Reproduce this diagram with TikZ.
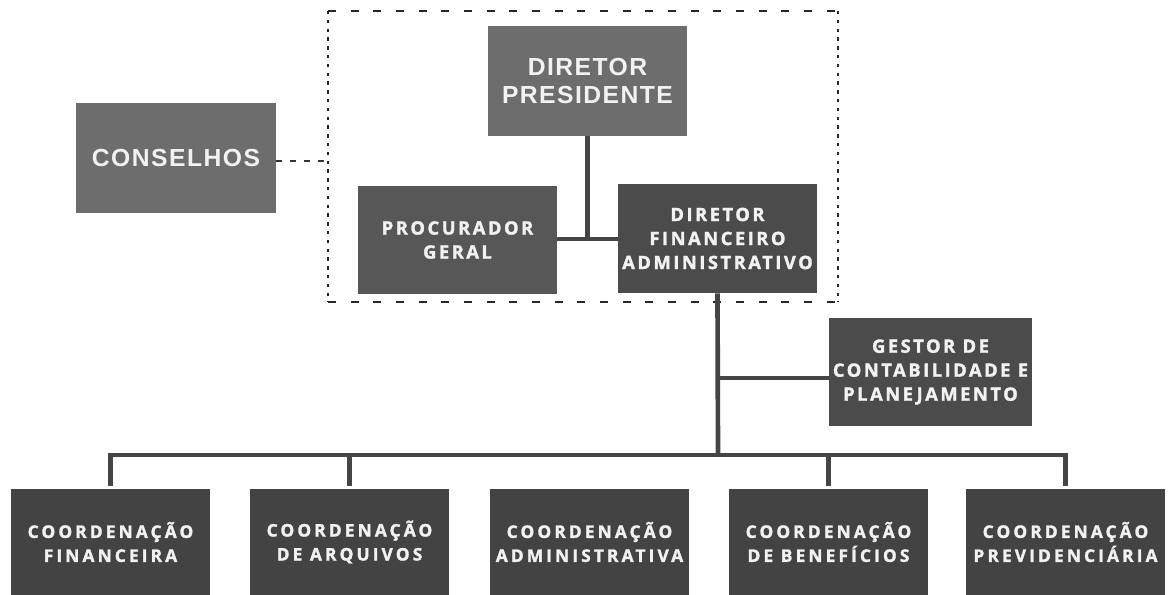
\documentclass[tikz,border=0pt]{standalone}
\usepackage{fontspec}
\newfontfamily\osm{Open Sans}[LetterSpace=13.5, FakeBold=1.6]
\newfontfamily\osc{Open Sans}[LetterSpace=18.0, FakeBold=1.6]
\newfontfamily\lsb{Liberation Sans}[LetterSpace=6.0]
\newdimen\pxu \pxu=0.75pt
\definecolor{lineC}{HTML}{454545}
\definecolor{boxA}{HTML}{6D6D6D}
\definecolor{boxB}{HTML}{575757}
\definecolor{boxC}{HTML}{4B4B4B}
\definecolor{boxD}{HTML}{434343}
\definecolor{txtC}{HTML}{F2F2F2}
\tikzset{
  orgbox/.style={inner sep=0pt, text=txtC, align=center, minimum width=199\pxu, minimum height=108\pxu},
  toplbl/.style={orgbox, font=\lsb\bfseries\fontsize{18.5}{21.5}\selectfont},
  midlbl/.style={orgbox, font=\osm\bfseries\fontsize{13.8}{18}\selectfont},
  botlbl/.style={orgbox, font=\osc\bfseries\fontsize{13}{18}\selectfont},
  conn/.style={draw=lineC, line width=3.5pt},
  dashh/.style={draw=black!85, line width=1.6pt, dash pattern=on 6pt off 11pt},
  dashv/.style={draw=black!85, line width=1.8pt, dash pattern=on 2.6pt off 4pt},
  dashc/.style={draw=black!80, line width=1.6pt, dash pattern=on 4pt off 6.5pt}
}
\begin{document}
\begin{tikzpicture}[x=0.75pt,y=-0.75pt]
\useasboundingbox[fill=white] (0,0) rectangle (1168,595);
% dashed frame
\coordinate (fTL) at (328,11);
\coordinate (fTR) at (838,11);
\coordinate (fBL) at (328,302);
\coordinate (fBR) at (838,302);
\draw[dashh] (fTL) -- (fTR);
\draw[dashh] (fBL) -- (fBR);
\draw[dashv] (fTL) -- (fBL);
\draw[dashv] (fTR) -- (fBR);
% nodes
\node[toplbl, fill=boxA, minimum height=110\pxu] (dp) at (587.5,81) {DIRETOR\\PRESIDENTE};
\node[toplbl, fill=boxA, minimum width=200\pxu, minimum height=110\pxu] (cons) at (176,158) {CONSELHOS};
\node[midlbl, fill=boxB] (proc) at (457.5,240) {PROCURADOR\\GERAL};
\node[midlbl, fill=boxC, minimum height=109\pxu] (df) at (717.5,238.5) {DIRETOR\\FINANCEIRO\\ADMINISTRATIVO};
\node[midlbl, fill=boxC, minimum width=203\pxu, minimum height=108\pxu] (gest) at (930.5,372) {GESTOR DE\\CONTABILIDADE E\\PLANEJAMENTO};
\node[botlbl, fill=boxD, minimum height=106\pxu] (c1) at (110.5,542) {COORDENAÇÃO\\FINANCEIRA};
\node[botlbl, fill=boxD, minimum height=106\pxu] (c2) at (349.5,542) {COORDENAÇÃO\\DE ARQUIVOS};
\node[botlbl, fill=boxD, minimum height=106\pxu] (c3) at (589.5,542) {COORDENAÇÃO\\ADMINISTRATIVA};
\node[botlbl, fill=boxD, minimum height=106\pxu] (c4) at (828.5,542) {COORDENAÇÃO\\DE BENEFÍCIOS};
\node[botlbl, fill=boxD, minimum height=106\pxu] (c5) at (1065.5,542) {COORDENAÇÃO\\PREVIDENCIÁRIA};
% helper coordinates
\coordinate (j1) at (587.5,239);
\coordinate (j2) at (718,378);
\coordinate (bus) at (718,455);
\coordinate (frameL) at (328,161);
% connectors
\draw[dashc] (cons.east |- frameL) -- (frameL);
\draw[conn] (dp.south) -- (j1);
\draw[conn] (proc.east |- j1) -- (df.west |- j1);
\draw[conn] (df.south) -- (bus);
\draw[conn] (j2) -- (gest.west |- j2);
\draw[conn, line cap=rect] (c1.north |- bus) -- (c5.north |- bus);
\draw[conn, shorten >=2pt] (c1.north |- bus) -- (c1.north);
\draw[conn, shorten >=2pt] (c2.north |- bus) -- (c2.north);
\draw[conn, shorten >=2pt] (c4.north |- bus) -- (c4.north);
\draw[conn, shorten >=2pt] (c5.north |- bus) -- (c5.north);
\end{tikzpicture}
\end{document}
